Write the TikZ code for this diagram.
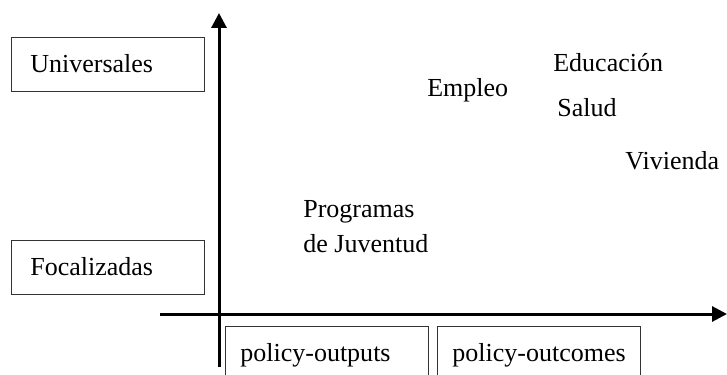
\documentclass[tikz,border=0pt]{standalone}
\usepackage{fontspec}
\setmainfont{Liberation Serif}
\usetikzlibrary{arrows, arrows.meta}
\usetikzlibrary{positioning}
\usetikzlibrary{calc}

\tikzset{
	catbox/.style={draw=black!80, line width=0.4pt, minimum height=1.08cm, text height=0.40cm, text depth=0.08cm, align=left, anchor=north west},
	axis/.style={line width=0.06cm, -{Triangle[length=0.3cm,width=0.3cm]}},
	lbl/.style={anchor=base west, inner sep=0pt}
}

\begin{document}
\begin{tikzpicture}[x=0.02cm, y=-0.02cm, font=\fontsize{14.8pt}{17.4pt}\selectfont]
				\useasboundingbox (0,0) rectangle (727,375);
				
				% axes
				\coordinate (ybot) at (219,367);
				\coordinate (ytop) at (219,13);
				\coordinate (xleft) at (160,314);
				\coordinate (xright) at (727,314);
				\draw[axis] (ybot) -- (ytop);
				\draw[axis] (xleft) -- (xright);
				
				% boxes on the left
				\node[catbox, text width=3.1cm, inner xsep=0.38cm] (univ) at (11,37) {Universales};
				\node[catbox, text width=3.1cm, inner xsep=0.38cm] (focal) at (11,240) {Focalizadas};
				
				% boxes below
				\node[catbox, text width=3.46cm, inner xsep=0.3cm] (outputs) at (225,326) {\mbox{policy-outputs}};
				\node[catbox, text width=3.46cm, inner xsep=0.3cm] (outcomes) at (437,326) {\mbox{policy-outcomes}};
				
				% policies
				\node[lbl] (empleo) at (427,97) {Empleo};
				\node[lbl] (educacion) at (553,72) {Educación};
				\node[lbl] (salud) at (557,116) {Salud};
				\node[lbl] (vivienda) at (625,170) {Vivienda};
				\node[lbl, align=left, font=\fontsize{14.8pt}{19.4pt}\selectfont] (juventud) at (303,252) {Programas\\de Juventud};
			\end{tikzpicture}
\end{document}
